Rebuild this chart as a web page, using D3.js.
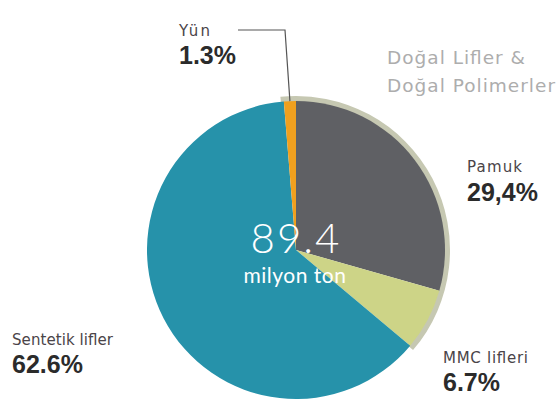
<!DOCTYPE html>
<html><head><meta charset="utf-8">
<script src="https://cdn.jsdelivr.net/npm/d3@7"></script>
<style>body{margin:0;background:#fff;}svg{display:block;}</style>
</head><body>
<svg id="c" width="560" height="403"></svg>
<script>
const categories = ["Pamuk", "MMC lifleri", "Sentetik lifler", "Yün"];
const values = [29.4, 6.7, 62.6, 1.3];
const valueLabels = ["29,4%", "6.7%", "62.6%", "1.3%"];
const colors = ["#5f6064", "#cdd487", "#2692aa", "#f0a01e"];

const svg = d3.select("#c");
const cx = 296, cy = 250, r = 149;
const g = svg.append("g").attr("transform", `translate(${cx},${cy})`);

const pie = d3.pie().sort(null).value(d => d.v);
const data = categories.map((c, i) => ({c, v: values[i], col: colors[i], lab: valueLabels[i]}));
const arcs = pie(data);
const arc = d3.arc().innerRadius(0).outerRadius(r);

// outer ring behind natural fibres (Yün start -> MMC end)
const yun = arcs[3], mmc = arcs[1];
g.append("path")
  .attr("d", d3.arc().innerRadius(r - 2).outerRadius(r + 5)({startAngle: yun.startAngle - 2 * Math.PI - 0.02, endAngle: mmc.endAngle + 0.01}))
  .attr("fill", "#c6c8b2");

g.selectAll("path.s").data(arcs).join("path").attr("class", "s")
  .attr("d", arc).attr("fill", d => d.data.col);

// center text
g.append("text").attr("x", 0).attr("y", 3).attr("text-anchor", "middle")
  .attr("font-family", "Lato, sans-serif").attr("font-weight", 300)
  .attr("font-size", 42).attr("letter-spacing", 2).attr("fill", "#fff").text("89.4");
g.append("text").attr("x", -1).attr("y", 33).attr("text-anchor", "middle")
  .attr("font-family", "Lato, sans-serif").attr("font-size", 21).attr("letter-spacing", 0.5)
  .attr("fill", "#fff").text("milyon ton");

// leader for Yün
const ya = (yun.startAngle + yun.endAngle) / 2;
const px = cx + r * Math.sin(ya), py = cy - r * Math.cos(ya);
svg.append("polyline")
  .attr("points", `238,30 285,30 ${px},${py}`)
  .attr("fill", "none").attr("stroke", "#555").attr("stroke-width", 1.2);

const labelPos = {
  "Pamuk": [467, 172, 201, 55],
  "MMC lifleri": [443, 363, 391, 85],
  "Sentetik lifler": [12, 345, 373, 101],
  "Yün": [179, 36, 64, 31]
};
data.forEach(d => {
  const [x, y1, y2, w] = labelPos[d.c];
  svg.append("text").attr("x", x).attr("y", y1)
    .attr("font-family", "'DejaVu Sans', sans-serif").attr("font-size", 15)
    .attr("textLength", w).attr("lengthAdjust", "spacing")
    .attr("fill", "#4a4448").text(d.c);
  svg.append("text").attr("x", x).attr("y", y2)
    .attr("font-family", "'Liberation Sans', Arial, sans-serif").attr("font-weight", "bold")
    .attr("font-size", 25).attr("fill", "#2b2b2b").text(d.lab);
});

// group title
svg.append("text").attr("x", 387).attr("y", 64)
  .attr("font-family", "'DejaVu Sans', sans-serif").attr("font-size", 18.5)
  .attr("textLength", 138).attr("lengthAdjust", "spacing")
  .attr("fill", "#adadad").text("Doğal Lifler &");
svg.append("text").attr("x", 387).attr("y", 92)
  .attr("font-family", "'DejaVu Sans', sans-serif").attr("font-size", 18.5)
  .attr("textLength", 168).attr("lengthAdjust", "spacing")
  .attr("fill", "#adadad").text("Doğal Polimerler");
</script>
</body></html>
